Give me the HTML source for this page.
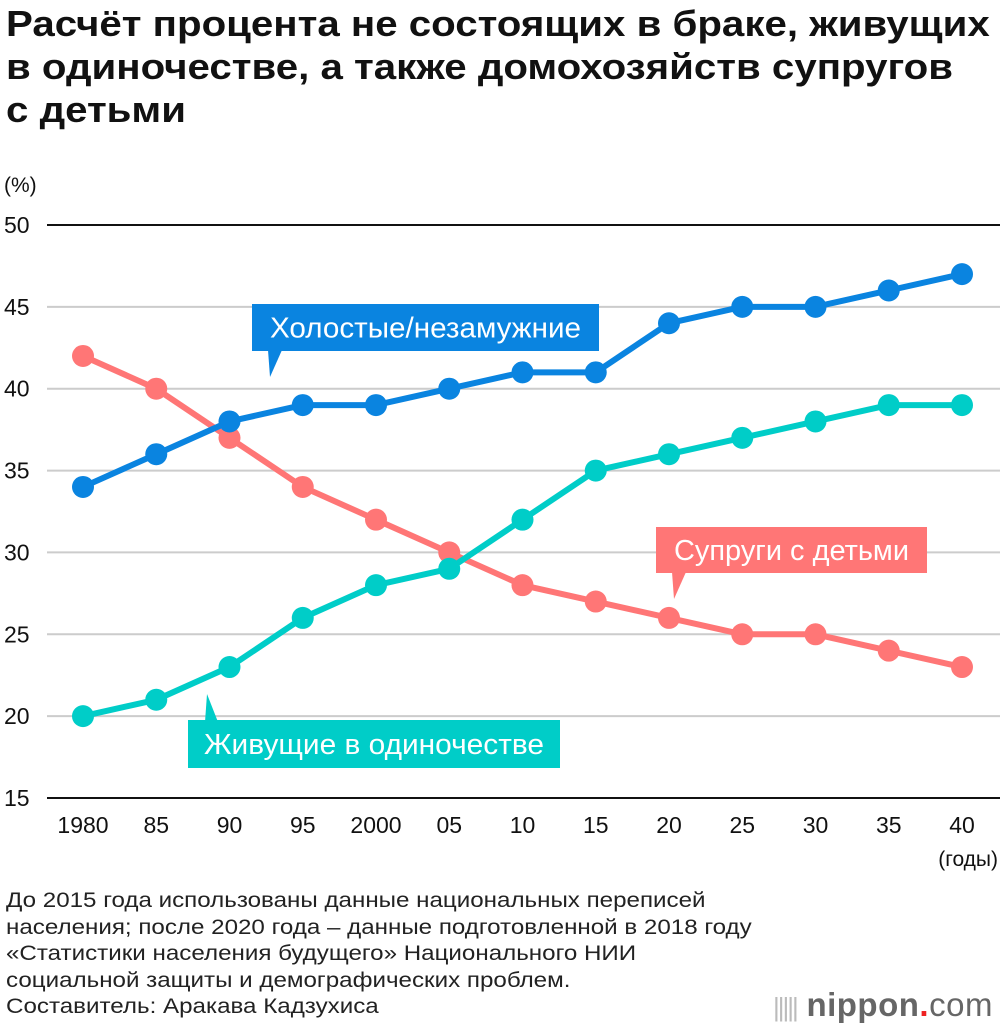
<!DOCTYPE html>
<html><head><meta charset="utf-8">
<style>
html,body{margin:0;padding:0;background:#fff;}
body{width:1000px;height:1032px;position:relative;overflow:hidden;font-family:"Liberation Sans","DejaVu Sans",sans-serif;color:#111;}
h1{position:absolute;left:6px;top:2px;margin:0;font-size:36px;line-height:43px;font-weight:bold;transform:scaleX(1.118);transform-origin:0 0;white-space:nowrap;}
.note{position:absolute;left:6px;top:888px;font-size:21px;line-height:26.5px;color:#222;transform:scaleX(1.15);transform-origin:0 0;white-space:nowrap;}
.logo{position:absolute;left:773px;top:986px;font-size:33px;color:#666;font-weight:bold;letter-spacing:0.5px}
</style></head><body>
<h1>Расчёт процента не состоящих в браке, живущих<br>в одиночестве, а также домохозяйств супругов<br>с детьми</h1>
<svg id="chart" width="1000" height="880" style="position:absolute;left:0;top:0" font-family="Liberation Sans, DejaVu Sans, sans-serif"></svg>
<div class="note">До 2015 года использованы данные национальных переписей<br>населения; после 2020 года – данные подготовленной в 2018 году<br>«Статистики населения будущего» Национального НИИ<br>социальной защиты и демографических проблем.<br>Составитель: Аракава Кадзухиса</div>
<div class="logo"><span style="font-weight:normal;color:#bbb;font-size:26px;letter-spacing:-2px">|||||</span> nippon<span style="color:#e22">.</span><span style="font-weight:normal">com</span></div>
<script>
const categories=["1980","85","90","95","2000","05","10","15","20","25","30","35","40"];
const yTicks=[15,20,25,30,35,40,45,50];
const singles=[34,36,38,39,39,40,41,41,44,45,45,46,47];
const couples=[42,40,37,34,32,30,28,27,26,25,25,24,23];
const alone=[20,21,23,26,28,29,32,35,36,37,38,39,39];
const svg=document.getElementById('chart');
const NS='http://www.w3.org/2000/svg';
function x(i){return 83+i*(962-83)/(categories.length-1);}
function y(v){return 798-(v-15)*(798-225)/35;}
function mk(t,a){const e=document.createElementNS(NS,t);for(const k in a)e.setAttribute(k,a[k]);svg.appendChild(e);return e;}
yTicks.forEach((v,k)=>{
  const edge=(k===0||k===yTicks.length-1);
  const l=mk('line',{x1:47,x2:1000,y1:y(v),y2:y(v),stroke:edge?'#111':'#ccc','stroke-width':2});
  
  
  const t=mk('text',{x:4,y:y(v)+8,'font-size':23,fill:'#111'});t.textContent=v;
  
  
});
const u=mk('text',{x:4,y:192,'font-size':21,fill:'#111'});u.textContent='(%)';


categories.forEach((c,i)=>{
  const t=mk('text',{x:x(i),y:833,'font-size':23,fill:'#111','text-anchor':'middle'});t.textContent=c;
  
  
});
const xu=mk('text',{x:998,y:866,'font-size':21,fill:'#111','text-anchor':'end'});xu.textContent='(годы)';


function series(arr,col,name){
  const p=mk('polyline',{points:arr.map((v,i)=>x(i)+','+y(v)).join(' '),fill:'none',stroke:col,'stroke-width':6,'stroke-linejoin':'round'});
  
  
  arr.forEach((v,i)=>{
    const c=mk('circle',{cx:x(i),cy:y(v),r:11,fill:col});
    
    
  });
}
series(couples,'#ff7676','couples');
series(alone,'#00cdc8','alone');
series(singles,'#0a84e0','singles');
function label(x0,y0,w,h,px,col,txt,name){
  const g=mk('polygon',{points:`${px},${y0+h-1} ${px+2},${y0+h+26} ${px+14},${y0+h-1}`,fill:col});
  
  
  const r=mk('rect',{x:x0,y:y0,width:w,height:h,fill:col});
  
  
  const t=mk('text',{x:x0+w/2,y:y0+h/2+10,'font-size':29,fill:'#fff','text-anchor':'middle',textLength:w-36,lengthAdjust:'spacingAndGlyphs'});t.textContent=txt;
  
  
}
label(252,304,347,47,268,'#0a84e0','Холостые/незамужние','singles');
label(656,527,271,46,672,'#ff7676','Супруги с детьми','couples');
{
  const col='#00cdc8';
  const g=mk('polygon',{points:'205,722 207,694 218,722',fill:col});
  
  
  const r=mk('rect',{x:188,y:720,width:372,height:48,fill:col});
  
  
  const t=mk('text',{x:374,y:754,'font-size':29,fill:'#fff','text-anchor':'middle',textLength:340,lengthAdjust:'spacingAndGlyphs'});t.textContent='Живущие в одиночестве';
  
  
}
</script>
</body></html>
